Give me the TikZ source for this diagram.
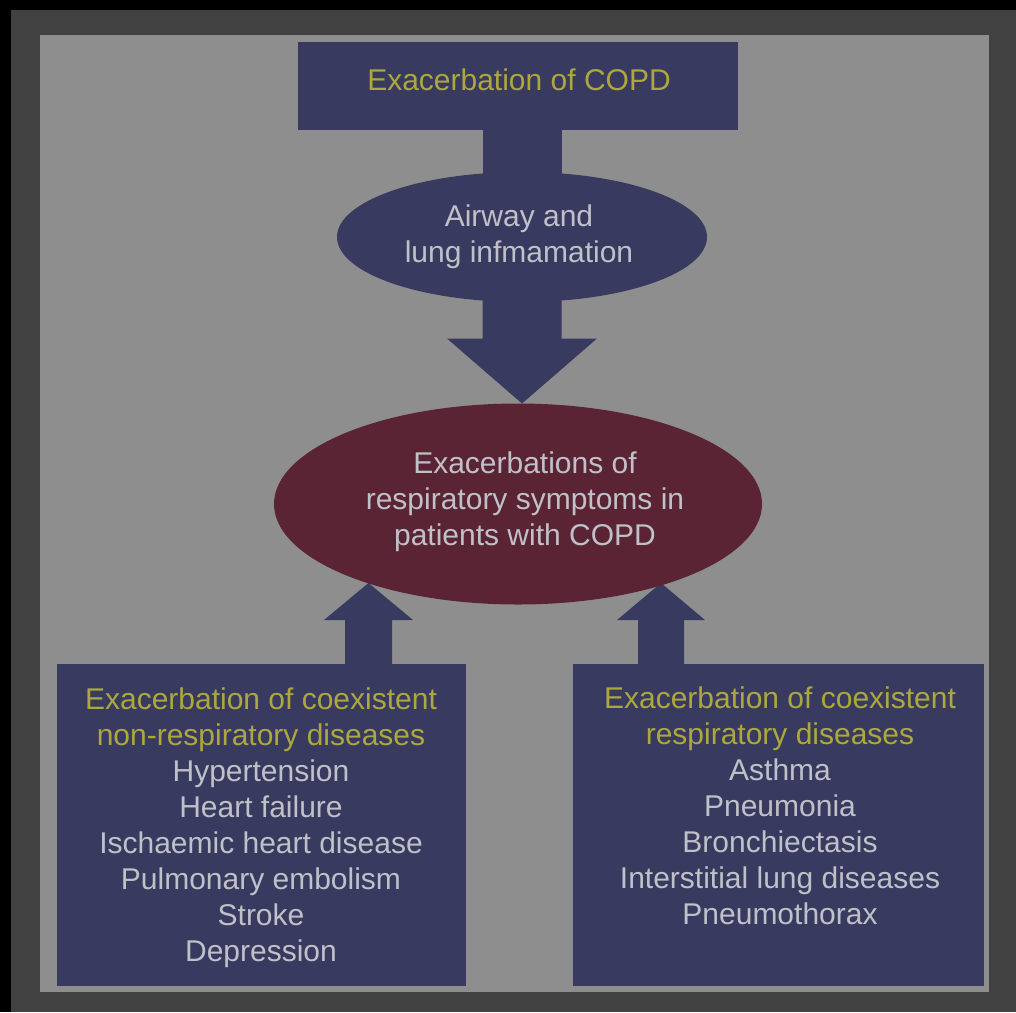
\documentclass[tikz,border=0pt]{standalone}
\usepackage{fontspec}
\setmainfont{Liberation Sans}
\usetikzlibrary{shapes.geometric}
\definecolor{navy}{RGB}{56,58,95}
\definecolor{wine}{RGB}{91,36,53}
\definecolor{frame}{RGB}{65,65,65}
\definecolor{panel}{RGB}{142,142,142}
\definecolor{yell}{RGB}{172,168,62}
\definecolor{pale}{RGB}{192,193,200}
\newcommand{\firststrut}{\rule{0pt}{26pt}}
\begin{document}
\begin{tikzpicture}[x=1pt,y=-1pt,
  blockbox/.style={rectangle,fill=navy,draw=none,inner sep=0pt,outer sep=0pt},
  navyoval/.style={ellipse,fill=navy,draw=none,inner sep=0pt,outer sep=0pt},
  wineoval/.style={ellipse,fill=wine,draw=none,inner sep=0pt,outer sep=0pt},
  label/.style={inner sep=0pt,outer sep=0pt,align=center,text=pale,
                font=\fontsize{30}{36}\selectfont},
  arrowfill/.style={fill=navy,draw=none}]
  % page, dark frame and grey panel
  \useasboundingbox (0,0) rectangle (1016,1012);
  \fill[black] (0,0) rectangle (1016,1012);
  \fill[frame] (11,10) rectangle (1016,1012);
  \fill[panel] (40,35) rectangle (989,992);

  % top box, stem, and airway oval over the stem
  \node[blockbox,minimum width=440pt,minimum height=88pt] (top) at (518,86) {};
  \coordinate (airc) at (522,237);
  \coordinate (stemtop) at ([yshift=2pt]airc |- top.south);
  \fill[arrowfill] ([xshift=-39.5pt]stemtop) rectangle ([xshift=39.5pt]airc);
  \node[navyoval,minimum width=370pt,minimum height=130pt] (air) at (airc) {};

  % bottom boxes
  \node[blockbox,minimum width=409pt,minimum height=322pt] (lbox) at (261.5,825) {};
  \node[blockbox,minimum width=411pt,minimum height=322pt] (rbox) at (778.5,825) {};

  % block arrows: bottom boxes -> central oval (drawn beneath the oval)
  \coordinate (lbase) at ([xshift=107pt]lbox.north);
  \coordinate (rbase) at ([xshift=-117.5pt]rbox.north);
  \fill[arrowfill] (lbase) ++(-23.5,2) -- ++(0,-46) -- ++(-21,0) -- ++(44.5,-37)
    -- ++(44.5,37) -- ++(-21,0) -- ++(0,46) -- cycle;
  \fill[arrowfill] (rbase) ++(-23,2) -- ++(0,-46) -- ++(-21,0) -- ++(44,-37)
    -- ++(44,37) -- ++(-21,0) -- ++(0,46) -- cycle;

  % central wine oval
  \node[wineoval,minimum width=488pt,minimum height=201pt] (sym) at (518,504) {};

  % block arrow: airway oval -> central oval
  \coordinate (tipA) at (sym.north -| air.center);
  \fill[arrowfill] (tipA) -- ++(-75,-65) -- ++(35.5,0) -- ++(0,-70) -- ++(79,0)
    -- ++(0,70) -- ++(35.5,0) -- cycle;

  % texts
  \node[label,anchor=base,text=yell] (toptxt) at (519,90) {Exacerbation of COPD};
  \node[label,anchor=north] (airtxt) at (519,200)
    {\firststrut Airway and\\lung infmamation};
  \node[label,anchor=north] (symtxt) at (525,447)
    {\firststrut Exacerbations of\\respiratory symptoms in\\patients with COPD};
  \node[label,anchor=north] (ltxt) at (261,683)
    {\firststrut\textcolor{yell}{Exacerbation of coexistent}\\
     \textcolor{yell}{non-respiratory diseases}\\
     Hypertension\\Heart failure\\Ischaemic heart disease\\
     Pulmonary embolism\\Stroke\\Depression};
  \node[label,anchor=north] (rtxt) at (780,682)
    {\firststrut\textcolor{yell}{Exacerbation of coexistent}\\
     \textcolor{yell}{respiratory diseases}\\
     Asthma\\Pneumonia\\Bronchiectasis\\
     Interstitial lung diseases\\Pneumothorax};
\end{tikzpicture}
\end{document}
